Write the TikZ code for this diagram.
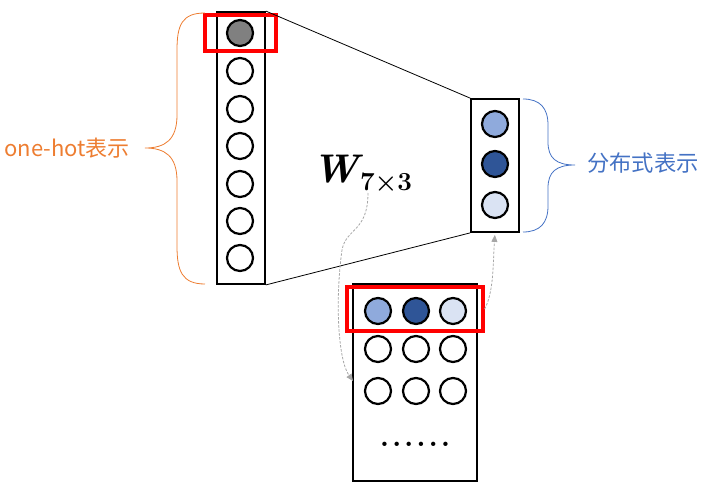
\documentclass[tikz,border=0pt]{standalone}
\usepackage{fontspec}
\newfontfamily\cjk{Noto Sans CJK SC}
\usetikzlibrary{arrows.meta}
\definecolor{hotorange}{HTML}{ED7D31}
\definecolor{distblue}{HTML}{4472C4}
\definecolor{blueA}{HTML}{8FAADC}
\definecolor{blueB}{HTML}{2F5597}
\definecolor{blueC}{HTML}{DAE3F3}
\definecolor{dashgray}{HTML}{A6A6A6}
\tikzset{
  unit/.style={circle, draw, line width=2.2pt, minimum size=26pt, inner sep=0pt},
  vecbox/.style={rectangle, draw, line width=1.8pt, inner sep=0pt},
  pick/.style={rectangle, draw=red, line width=3.2pt, inner sep=0pt},
  lookup/.style={dashgray, dash pattern=on 2.5pt off 1.5pt, line width=0.8pt, -{Triangle[length=7pt,width=6pt]}}
}
\begin{document}
\begin{tikzpicture}[x=1pt,y=-1pt]
\useasboundingbox (0,0) rectangle (707,495);
% one-hot column
\node[vecbox, minimum width=48pt, minimum height=272pt] (lbox) at (241,148){};
\node[unit, fill=gray] (l0) at (240,33){};
\node[unit] (l1) at (240,71){};
\node[unit] (l2) at (240,109){};
\node[unit] (l3) at (240,146){};
\node[unit] (l4) at (240,184){};
\node[unit] (l5) at (240,221){};
\node[unit] (l6) at (240,258){};
\node[pick, minimum width=71pt, minimum height=36pt] (lred) at (240.5,33){};
% distributed column
\node[vecbox, minimum width=48pt, minimum height=133pt] (rbox) at (495,165.5){};
\node[unit, fill=blueA] (r0) at (495,124){};
\node[unit, fill=blueB] (r1) at (495,164){};
\node[unit, fill=blueC] (r2) at (495,205){};
\draw[line width=0.8pt] (lbox.north east) -- (rbox.north west);
\draw[line width=0.8pt] (lbox.south east) -- (rbox.south west);
% weight matrix
\node[vecbox, minimum width=124pt, minimum height=197pt] (mbox) at (415,382.5){};
\node[unit, fill=blueA] (m00) at (378,311){};
\node[unit, fill=blueB] (m01) at (416,311){};
\node[unit, fill=blueC] (m02) at (453,311){};
\node[unit] (m10) at (378,349){};
\node[unit] (m11) at (416,349){};
\node[unit] (m12) at (453,349){};
\node[unit] (m20) at (378,391){};
\node[unit] (m21) at (416,391){};
\node[unit] (m22) at (453,391){};
\node[anchor=base, font=\bfseries\fontsize{30}{30}\selectfont, inner sep=0pt] (mdots) at (415,446)
  {.\hspace{2.8pt}.\hspace{2.8pt}.\hspace{2.8pt}.\hspace{2.8pt}.\hspace{2.8pt}.};
\node[pick, minimum width=136pt, minimum height=44pt] (mred) at (415,309){};
% labels
\node[anchor=base west, inner sep=0pt, font=\bfseries\itshape\fontsize{40}{40}\selectfont] (wlabel) at (312,182){W};
\node[anchor=base west, inner sep=0pt, font=\bfseries\fontsize{26}{26}\selectfont] (wsub) at (wlabel.base east) [yshift=-8pt, xshift=1pt]{7×3};
\node[hotorange, font=\cjk\fontsize{22}{22}\selectfont, inner sep=0pt] (onehot) at (67,148){one-hot表示};
\node[distblue, font=\cjk\fontsize{22.3}{22.3}\selectfont, inner sep=0pt] (dist) at (643,163){分布式表示};
% braces
\draw[hotorange, line width=0.8pt] (205,13) .. controls (182,13) and (177,25) .. (177,50) -- (177,115)
  .. controls (177,140) and (165,148) .. (145,148)
  .. controls (165,148) and (177,156) .. (177,181) -- (177,246)
  .. controls (177,271) and (182,284) .. (205,284);
\draw[distblue, line width=0.8pt] (523,99) .. controls (540,99) and (548,108) .. (548,125) -- (548,142)
  .. controls (548,158) and (556,165) .. (575,165)
  .. controls (556,165) and (548,172) .. (548,188) -- (548,206)
  .. controls (548,223) and (540,232) .. (523,232);
% lookup arrows
\coordinate (wtail) at (368,193);
\coordinate (mentry) at (353,381);
\draw[lookup] (wtail) .. controls (368,232) and (346,228) .. (342,250)
  .. controls (335,300) and (338,360) .. (mentry);
\draw[lookup, shorten >=2pt] (mred.east) .. controls (494,292) and (493,262) .. (rbox.south);
\end{tikzpicture}
\end{document}
